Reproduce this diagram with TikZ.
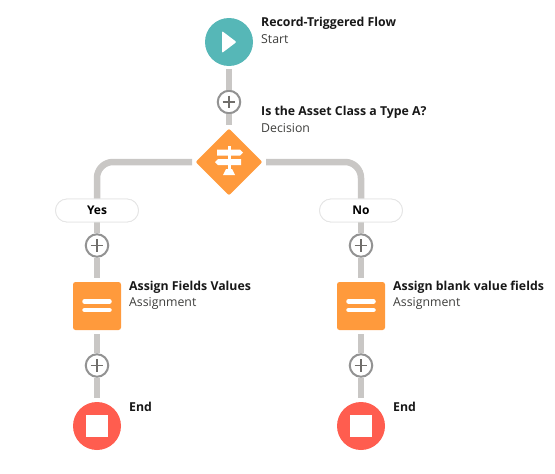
\documentclass[tikz,border=0pt]{standalone}
\usepackage{fontspec}
\setmainfont{Open Sans}
\usetikzlibrary{shapes.geometric}
\definecolor{conn}{HTML}{C9C7C5}
\definecolor{teal1}{HTML}{56B7B7}
\definecolor{orange1}{HTML}{FF9A3C}
\definecolor{red1}{HTML}{FF5D4F}
\definecolor{ringc}{HTML}{939393}
\definecolor{plusc}{HTML}{706E6B}
\definecolor{pillc}{HTML}{E5E5E5}
\definecolor{titlec}{HTML}{181818}
\definecolor{subc}{HTML}{3E3E3C}
\tikzset{
  x=1pt,y=-1pt,
  conn/.style={draw=conn,line width=6.5pt,rounded corners=16pt},
  startn/.style={circle,fill=teal1,minimum size=48pt,inner sep=0pt,outer sep=3pt},
  endn/.style={circle,fill=red1,minimum size=48pt,inner sep=0pt,outer sep=4pt},
  decn/.style={diamond,aspect=1,fill=orange1,rounded corners=2pt,minimum size=69pt,inner sep=0pt,outer sep=2.5pt},
  asgn/.style={fill=orange1,rounded corners=2.5pt,minimum size=48pt,inner sep=0pt,outer sep=4pt},
  plusn/.style={circle,draw=ringc,fill=white,line width=2pt,minimum size=22.5pt,inner sep=0pt,
    path picture={\draw[plusc,line width=1.4pt] (path picture bounding box.center) ++(-6.3,0) -- ++(12.6,0)
      (path picture bounding box.center) ++(0,-6.3) -- ++(0,12.6);}},
  pilln/.style={draw=pillc,fill=white,rounded corners=11.5pt,minimum width=83pt,minimum height=23pt,inner sep=0pt,line width=.8pt,
    font=\fontsize{12}{14}\selectfont\bfseries,text=black},
  titlen/.style={anchor=west,inner sep=0pt,font=\fontsize{12.3}{14}\selectfont\bfseries,text=titlec},
  subn/.style={anchor=west,inner sep=0pt,font=\fontsize{12.3}{14}\selectfont,text=subc},
  bar/.style={draw=white,line width=4.5pt,line cap=round},
}
\begin{document}
\begin{tikzpicture}
\useasboundingbox (0,0) rectangle (555,474);
\node[startn] (start) at (229,42) {};
\node[plusn] (p0) at (229,102) {};
\node[decn] (dec) at (229,162) {};
\node[pilln] (yes) at (97,210.5) {Yes};
\node[pilln] (no) at (361,210.5) {No};
\node[plusn] (p1) at (97,245.5) {};
\node[plusn] (p2) at (361,245.5) {};
\node[asgn] (a1) at (97,306) {};
\node[asgn] (a2) at (361,306) {};
\node[plusn] (p3) at (97,365.5) {};
\node[plusn] (p4) at (361,365.5) {};
\node[endn] (e1) at (97,426) {};
\node[endn] (e2) at (361,426) {};
% connectors
\draw[conn] (start) -- (p0);
\draw[conn] (p0) -- (dec);
\draw[conn] (dec.west) -| (yes.north);
\draw[conn] (dec.east) -| (no.north);
\draw[conn] (yes) -- (p1);
\draw[conn] (no) -- (p2);
\draw[conn] (p1) -- (a1);
\draw[conn] (p2) -- (a2);
\draw[conn] (a1) -- (p3);
\draw[conn] (a2) -- (p4);
\draw[conn] (p3) -- (e1);
\draw[conn] (p4) -- (e2);
% redraw pills above connectors
\node[pilln] at (yes) {Yes};
\node[pilln] at (no) {No};
% icons
\fill[white,rounded corners=1pt] (222,31) -- (236.5,42) -- (222,53) -- cycle;
\fill[white] (350,415) rectangle (372,437);
\fill[white] (86,415) rectangle (108,437);
\draw[bar] (84.5,301.5) -- (109.5,301.5) (84.5,310) -- (109.5,310);
\draw[bar] (348.5,301.5) -- (373.5,301.5) (348.5,310) -- (373.5,310);
\fill[white] (217,149.5) -- (240,149.5) -- (243,152.5) -- (240,155.5) -- (217,155.5) -- cycle;
\fill[white] (218,159) -- (241,159) -- (241,165) -- (218,165) -- (215,162) -- cycle;
\fill[white] (227.5,146) rectangle (230.5,170);
\fill[white] (223,175) -- (226,169) -- (232,169) -- (235,175) -- cycle;
% labels
\node[titlen] (t0) at (261,23.5) {Record-Triggered Flow};
\node[subn] (s0) at (261,39.5) {Start};
\node[titlen] (t1) at (261,112) {Is the Asset Class a Type A?};
\node[subn] (s1) at (261,128) {Decision};
\node[titlen] (t2) at (129,287) {Assign Fields Values};
\node[subn] (s2) at (129,303) {Assignment};
\node[titlen] (t3) at (393,287) {Assign blank value fields};
\node[subn] (s3) at (393,303) {Assignment};
\node[titlen] (t4) at (129,406.5) {End};
\node[titlen] (t5) at (393,406.5) {End};
\end{tikzpicture}
\end{document}
